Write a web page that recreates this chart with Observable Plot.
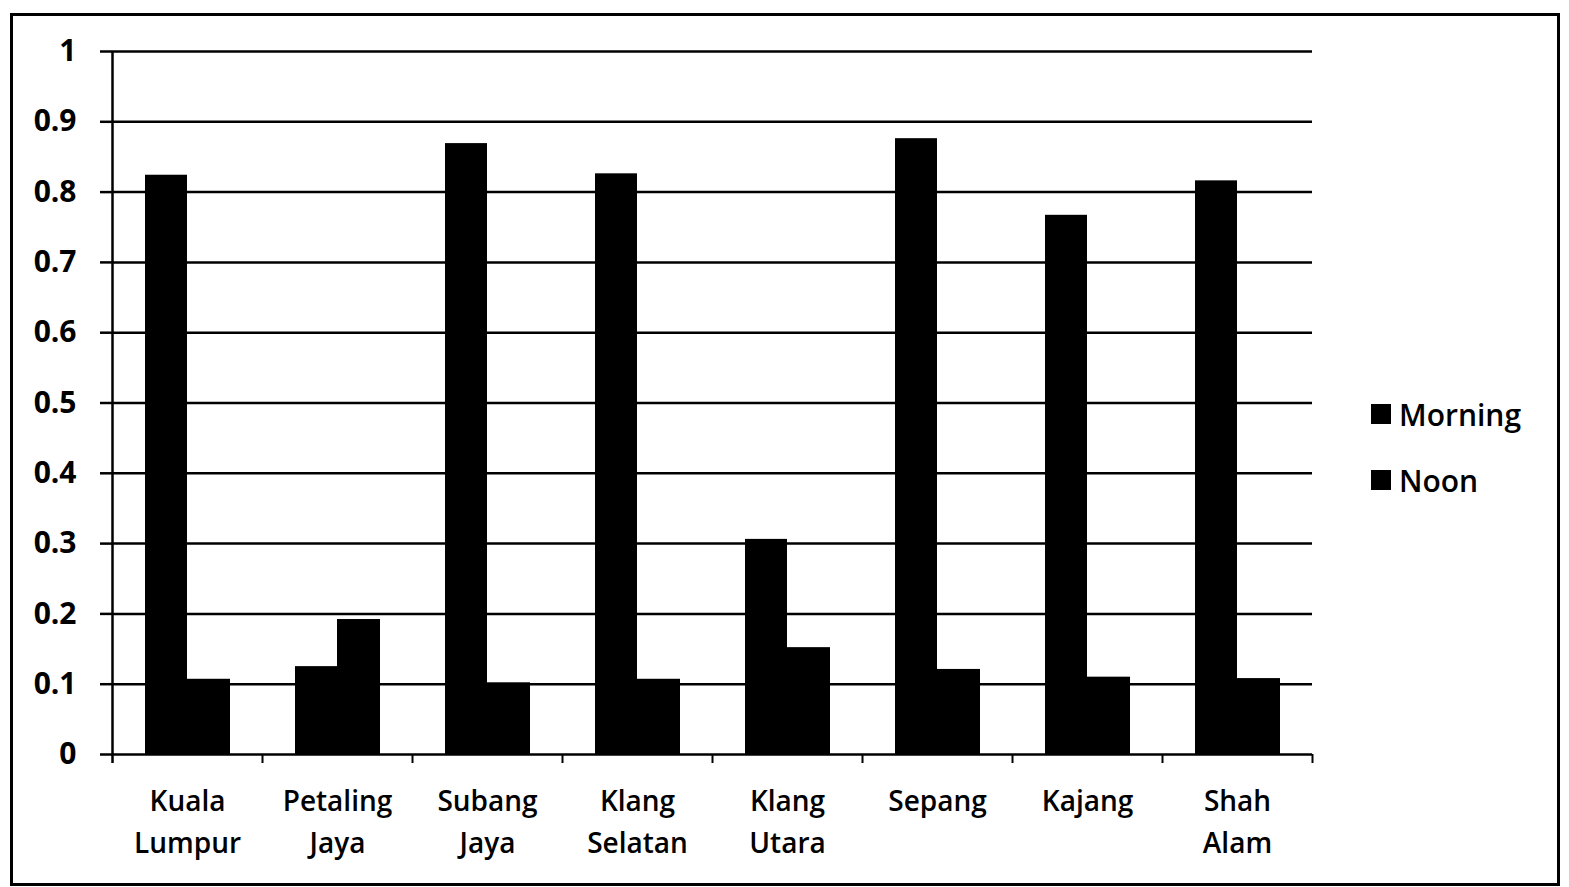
<!DOCTYPE html>
<html>
<head>
<meta charset="utf-8">
<script src="https://cdn.jsdelivr.net/npm/d3@7"></script>
<script src="https://cdn.jsdelivr.net/npm/@observablehq/plot@0.6"></script>
<style>
  html, body { margin: 0; padding: 0; background: #fff; }
  #wrap { position: relative; width: 1569px; height: 887px; overflow: hidden; background: #fff; font-family: "Open Sans", sans-serif; }
  #border { position: absolute; left: 10px; top: 13px; width: 1544px; height: 867px; border: 3px solid #000; pointer-events: none; }
  #legend { position: absolute; left: 1371px; top: 394px; font-size: 30px; font-weight: 600; color: #000; }
  .item { display: flex; align-items: center; height: 40px; margin-bottom: 26px; }
  .sw { width: 20px; height: 20px; background: #000; margin-right: 8px; }
</style>
</head>
<body>
<div id="wrap">
  <div id="chart"></div>
  <div id="border"></div>
  <div id="legend"></div>
</div>
<script>
const categories = ["Kuala\nLumpur", "Petaling\nJaya", "Subang\nJaya", "Klang\nSelatan", "Klang\nUtara", "Sepang", "Kajang", "Shah\nAlam"];
const seriesNames = ["Morning", "Noon"];
const morning = [0.824, 0.125, 0.869, 0.826, 0.306, 0.876, 0.767, 0.816];
const noon = [0.107, 0.192, 0.102, 0.107, 0.152, 0.121, 0.110, 0.108];
const yTicks = [0, 0.1, 0.2, 0.3, 0.4, 0.5, 0.6, 0.7, 0.8, 0.9, 1];

const rows = categories.flatMap((c, i) => [
  {category: c, series: seriesNames[0], value: morning[i]},
  {category: c, series: seriesNames[1], value: noon[i]}
]);

const chart = Plot.plot({
  width: 1569,
  height: 887,
  marginLeft: 112,
  marginRight: 257,
  marginTop: 51,
  marginBottom: 133,
  style: {fontFamily: "'Open Sans', sans-serif", background: "transparent", color: "#000"},
  x: {domain: categories, padding: 0, label: null},
  y: {domain: [0, 1], label: null},
  marks: [
    Plot.ruleY(yTicks, {stroke: "#000", strokeWidth: 2.5}),
    Plot.axisY({ticks: yTicks, tickSize: 12, tickPadding: 24, strokeWidth: 2.5, fontSize: 30, fontWeight: 700, tickFormat: d => String(d), label: null}),
    Plot.ruleX([categories[0]], {dx: -75, stroke: "#000", strokeWidth: 2.5, insetBottom: -9}),
    Plot.axisX({ticks: categories, tickSize: 9, dx: 75, strokeWidth: 2, text: null, label: null}),
    Plot.axisX({ticks: categories, tickSize: 0, tickPadding: 27, fontSize: 28, fontWeight: 600, lineHeight: 1.5, label: null}),
    Plot.barY(rows.filter(d => d.series === seriesNames[0]), {x: "category", y: "value", fill: "#000", insetLeft: 33, insetRight: 75}),
    Plot.barY(rows.filter(d => d.series === seriesNames[1]), {x: "category", y: "value", fill: "#000", insetLeft: 75, insetRight: 32})
  ]
});
document.getElementById("chart").appendChild(chart);

const legend = document.getElementById("legend");
seriesNames.forEach(name => {
  const item = document.createElement("div");
  item.className = "item";
  const sw = document.createElement("div");
  sw.className = "sw";
  const label = document.createElement("span");
  label.textContent = name;
  item.appendChild(sw);
  item.appendChild(label);
  legend.appendChild(item);
});
</script>
</body>
</html>
